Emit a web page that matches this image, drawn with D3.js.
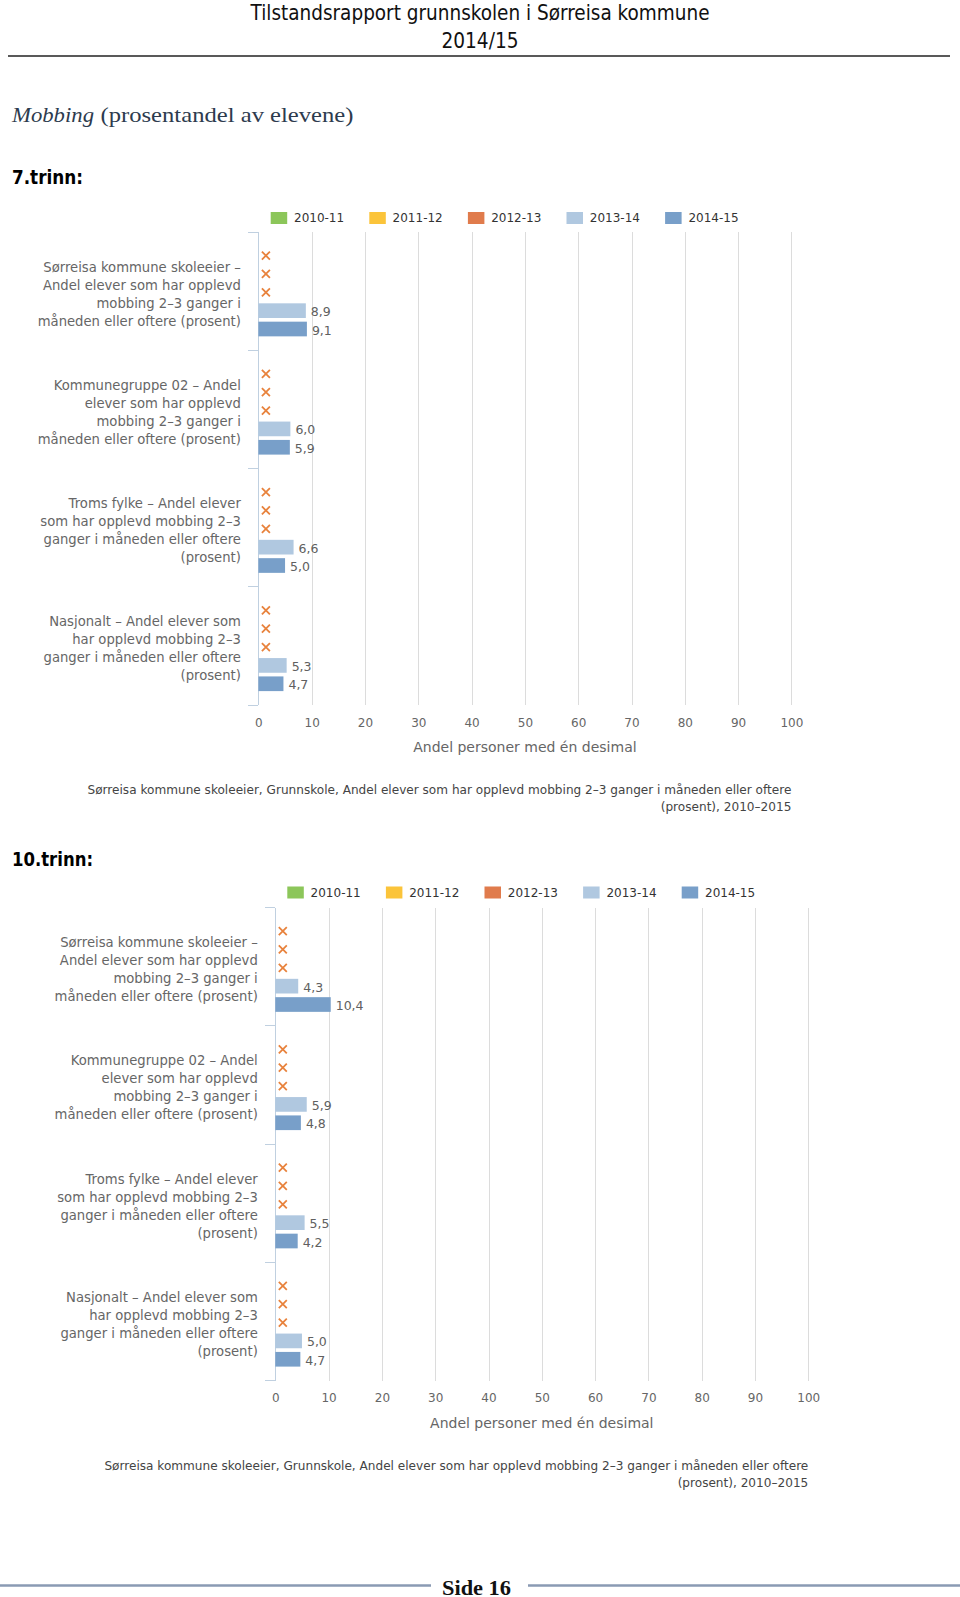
<!DOCTYPE html>
<html>
<head>
<meta charset="utf-8">
<script src="https://cdn.jsdelivr.net/npm/d3@7"></script>
<style>
  html, body { margin: 0; padding: 0; background: #ffffff; }
  svg { display: block; }
</style>
</head>
<body>
<svg id="page" width="960" height="1597"></svg>
<script>
// ---------------- DATA ----------------
const seriesNames = ["2010-11", "2011-12", "2012-13", "2013-14", "2014-15"];
const categoryLines = [
  ["Sørreisa kommune skoleeier –", "Andel elever som har opplevd", "mobbing 2–3 ganger i", "måneden eller oftere (prosent)"],
  ["Kommunegruppe 02 – Andel", "elever som har opplevd", "mobbing 2–3 ganger i", "måneden eller oftere (prosent)"],
  ["Troms fylke – Andel elever", "som har opplevd mobbing 2–3", "ganger i måneden eller oftere", "(prosent)"],
  ["Nasjonalt – Andel elever som", "har opplevd mobbing 2–3", "ganger i måneden eller oftere", "(prosent)"]
];
// 7. trinn
const trinn7_2010_11 = [null, null, null, null];
const trinn7_2011_12 = [null, null, null, null];
const trinn7_2012_13 = [null, null, null, null];
const trinn7_2013_14 = [8.9, 6.0, 6.6, 5.3];
const trinn7_2014_15 = [9.1, 5.9, 5.0, 4.7];
// 10. trinn
const trinn10_2010_11 = [null, null, null, null];
const trinn10_2011_12 = [null, null, null, null];
const trinn10_2012_13 = [null, null, null, null];
const trinn10_2013_14 = [4.3, 5.9, 5.5, 5.0];
const trinn10_2014_15 = [10.4, 4.8, 4.2, 4.7];

const xTicks = [0, 10, 20, 30, 40, 50, 60, 70, 80, 90, 100];
const xDomain = [0, 100];
const axisTitle = "Andel personer med én desimal";
const captionLine1 = "Sørreisa kommune skoleeier, Grunnskole, Andel elever som har opplevd mobbing 2–3 ganger i måneden eller oftere";
const captionLine2 = "(prosent), 2010–2015";

const headerLine1 = "Tilstandsrapport grunnskolen i Sørreisa kommune";
const headerLine2 = "2014/15";
const sectionTitleItalic = "Mobbing";
const sectionTitleRest = "(prosentandel av elevene)";
const chart1Title = "7.trinn:";
const chart2Title = "10.trinn:";
const footerText = "Side 16";

// ---------------- STYLE ----------------
const seriesColors = ["#8cc65a", "#fbc43a", "#e07b4c", "#b0c8e0", "#789fc9"];
const markColor = "#e8823c";
const chartFont = "'DejaVu Sans', Verdana, sans-serif";

const svg = d3.select("#page");

// ---------- document text ----------
function fitText(sel, len) {
  sel.attr("textLength", len).attr("lengthAdjust", "spacingAndGlyphs");
  return sel;
}
const docSans = "'Liberation Sans Narrow', 'DejaVu Sans Condensed', 'Liberation Sans', sans-serif";
const docSerif = "'Liberation Serif', 'DejaVu Serif', serif";

fitText(svg.append("text").attr("x", 480).attr("y", 12.5).attr("text-anchor", "middle")
  .attr("dominant-baseline", "central").attr("font-family", docSans).attr("font-size", 21)
  .attr("fill", "#111").text(headerLine1), 459);
fitText(svg.append("text").attr("x", 480).attr("y", 40.5).attr("text-anchor", "middle")
  .attr("dominant-baseline", "central").attr("font-family", docSans).attr("font-size", 21)
  .attr("fill", "#111").text(headerLine2), 77);
svg.append("line").attr("x1", 8).attr("x2", 950).attr("y1", 56).attr("y2", 56)
  .attr("stroke", "#222").attr("stroke-width", 1.4);

fitText(svg.append("text").attr("x", 12).attr("y", 114.5).attr("dominant-baseline", "central")
  .attr("font-family", docSerif).attr("font-style", "italic").attr("font-size", 22)
  .attr("fill", "#2d3b4e").text(sectionTitleItalic), 82);
fitText(svg.append("text").attr("x", 100.5).attr("y", 114.5).attr("dominant-baseline", "central")
  .attr("font-family", docSerif).attr("font-size", 22)
  .attr("fill", "#2d3b4e").text(sectionTitleRest), 253);

fitText(svg.append("text").attr("x", 12).attr("y", 176.5).attr("dominant-baseline", "central")
  .attr("font-family", docSans).attr("font-weight", "bold").attr("font-size", 20)
  .attr("fill", "#000").text(chart1Title), 71);
fitText(svg.append("text").attr("x", 12).attr("y", 859).attr("dominant-baseline", "central")
  .attr("font-family", docSans).attr("font-weight", "bold").attr("font-size", 20)
  .attr("fill", "#000").text(chart2Title), 81);

// footer
svg.append("line").attr("x1", 0).attr("x2", 431).attr("y1", 1585.5).attr("y2", 1585.5)
  .attr("stroke", "#8a9ab3").attr("stroke-width", 2.5);
svg.append("line").attr("x1", 528).attr("x2", 960).attr("y1", 1585.5).attr("y2", 1585.5)
  .attr("stroke", "#8a9ab3").attr("stroke-width", 2.5);
fitText(svg.append("text").attr("x", 476.5).attr("y", 1587.5).attr("text-anchor", "middle")
  .attr("dominant-baseline", "central").attr("font-family", docSerif).attr("font-weight", "bold")
  .attr("font-size", 20).attr("fill", "#111").text(footerText), 69);

// ---------- chart ----------
function drawChart(opt) {
  const g = svg.append("g");
  const x = d3.scaleLinear().domain(xDomain).range([opt.left, opt.right]);
  const y = d3.scaleBand().domain(d3.range(categoryLines.length)).range([opt.top, opt.bottom])
    .paddingInner(0).paddingOuter(0);
  const slot = d3.scaleBand().domain(d3.range(seriesNames.length))
    .range([y.bandwidth() * 0.122, y.bandwidth() * 0.898]);

  // legend
  const lg = g.append("g").attr("font-family", chartFont).attr("font-size", 12);
  seriesNames.forEach((name, i) => {
    const lx = opt.legendX + i * 98.6;
    lg.append("rect").attr("x", lx).attr("y", opt.legendY - 6).attr("width", 16.5).attr("height", 12)
      .attr("fill", seriesColors[i]);
    lg.append("text").attr("x", lx + 23.3).attr("y", opt.legendY).attr("dominant-baseline", "central")
      .attr("fill", "#333").text(name);
  });

  // gridlines via axis
  const gridAxis = d3.axisBottom(x).tickValues(xTicks).tickSize(-(opt.bottom - opt.top)).tickFormat("");
  const gg = g.append("g").attr("transform", `translate(0,${opt.bottom})`).call(gridAxis);
  gg.select(".domain").remove();
  gg.selectAll(".tick line").attr("stroke", "#dcdcdc").attr("stroke-width", 1)
    .attr("shape-rendering", "crispEdges");

  // tick labels
  const labAxis = d3.axisBottom(x).tickValues(xTicks).tickSize(0).tickPadding(0).tickFormat(d3.format("d"));
  const la = g.append("g").attr("transform", `translate(0,${opt.bottom + 17.5})`).call(labAxis);
  la.select(".domain").remove();
  la.selectAll(".tick text").attr("font-family", chartFont).attr("font-size", 12).attr("fill", "#666")
    .attr("dy", null).attr("dominant-baseline", "central").attr("y", 0);

  // axis title
  g.append("text").attr("x", (opt.left + opt.right) / 2).attr("y", opt.bottom + 42)
    .attr("text-anchor", "middle").attr("dominant-baseline", "central")
    .attr("font-family", chartFont).attr("font-size", 14).attr("fill", "#666").text(axisTitle);

  // category axis line and ticks
  g.append("line").attr("x1", opt.left).attr("x2", opt.left).attr("y1", opt.top).attr("y2", opt.bottom)
    .attr("stroke", "#c0d0e0").attr("stroke-width", 1).attr("shape-rendering", "crispEdges");
  const bounds = d3.range(categoryLines.length + 1).map(i => i < categoryLines.length ? y(i) : opt.bottom);
  g.selectAll(null).data(bounds).enter().append("line")
    .attr("x1", opt.left - 10).attr("x2", opt.left).attr("y1", d => d).attr("y2", d => d)
    .attr("stroke", "#c0d0e0").attr("stroke-width", 1).attr("shape-rendering", "crispEdges");

  // category labels
  const cl = g.append("g").attr("font-family", chartFont).attr("font-size", 13.2).attr("fill", "#666");
  categoryLines.forEach((lines, ci) => {
    const cy = y(ci) + y.bandwidth() / 2 + 3;
    const t = cl.append("text").attr("text-anchor", "end");
    lines.forEach((ln, li) => {
      t.append("tspan").attr("x", opt.left - 17.5)
        .attr("y", cy + (li - (lines.length - 1) / 2) * 18)
        .attr("dominant-baseline", "central").text(ln);
    });
  });

  // bars + marks
  const fmt = v => d3.format(".1f")(v).replace(".", ",");
  opt.series.forEach((vals, si) => {
    vals.forEach((v, ci) => {
      const cy = y(ci) + slot(si) + slot.bandwidth() / 2;
      if (v == null) {
        const mx = opt.left + 7.5, s = 4;
        g.append("path")
          .attr("d", `M${mx - s},${cy - s}L${mx + s},${cy + s}M${mx - s},${cy + s}L${mx + s},${cy - s}`)
          .attr("stroke", markColor).attr("stroke-width", 1.8).attr("fill", "none");
      } else {
        const h = slot.bandwidth() * 0.8;
        g.append("rect").attr("x", x(0)).attr("y", cy - h / 2)
          .attr("width", x(v) - x(0)).attr("height", h).attr("fill", seriesColors[si]);
        g.append("text").attr("x", x(v) + 5).attr("y", cy + 1).attr("dominant-baseline", "central")
          .attr("font-family", chartFont).attr("font-size", 12.5).attr("fill", "#606060").text(fmt(v));
      }
    });
  });

  // caption
  g.append("text").attr("x", opt.right).attr("y", opt.bottom + 85).attr("text-anchor", "end")
    .attr("dominant-baseline", "central").attr("font-family", chartFont).attr("font-size", 12.1)
    .attr("fill", "#444").text(captionLine1);
  g.append("text").attr("x", opt.right).attr("y", opt.bottom + 102).attr("text-anchor", "end")
    .attr("dominant-baseline", "central").attr("font-family", chartFont).attr("font-size", 12.1)
    .attr("fill", "#444").text(captionLine2);
}

drawChart({
  left: 258.4, right: 791.4, top: 232, bottom: 705,
  legendX: 270.7, legendY: 218,
  series: [trinn7_2010_11, trinn7_2011_12, trinn7_2012_13, trinn7_2013_14, trinn7_2014_15]
});
drawChart({
  left: 275.3, right: 808.3, top: 907.5, bottom: 1380.5,
  legendX: 287.3, legendY: 892.5,
  series: [trinn10_2010_11, trinn10_2011_12, trinn10_2012_13, trinn10_2013_14, trinn10_2014_15]
});
</script>
</body>
</html>
